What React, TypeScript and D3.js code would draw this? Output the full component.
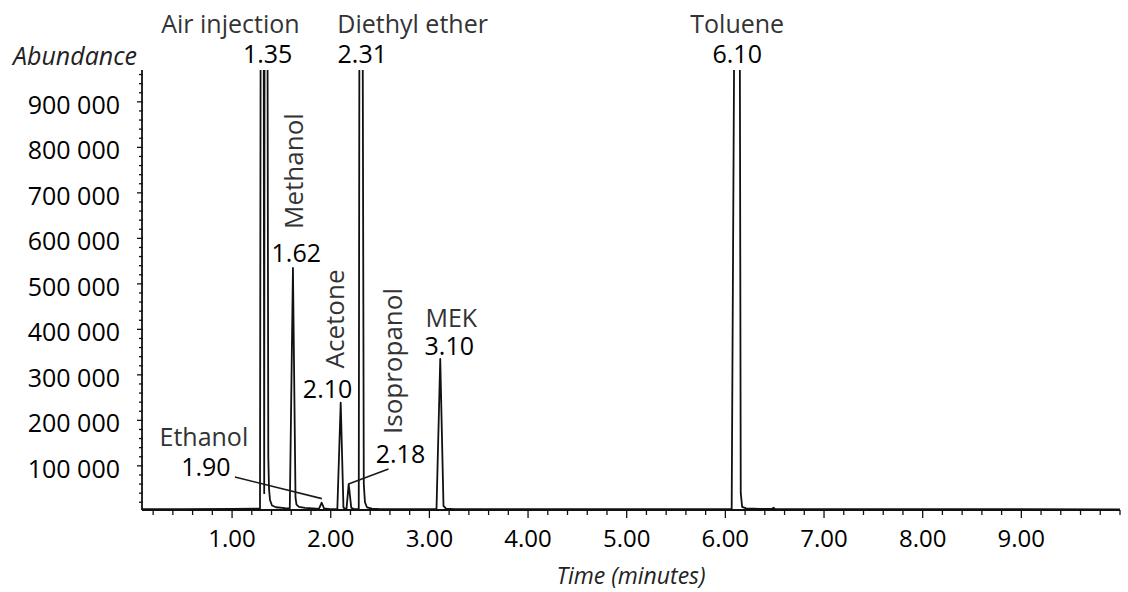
import * as d3 from 'd3';

// chromatogram trace (time in minutes, abundance)
const traceTime = [
  0.09, 0.5, 1.0, 1.283,
  1.291, 1.3195, 1.3256, 1.3297, 1.357, 1.3672, 1.3743, 1.3844, 1.4047, 1.4453, 1.536, 1.582,
  1.585, 1.617, 1.643, 1.653, 1.678, 1.739, 1.851,
  1.881, 1.908, 1.932, 1.993,
  2.067, 2.101, 2.129, 2.15,
  2.16, 2.182, 2.208, 2.236,
  2.284, 2.292, 2.321, 2.335, 2.347, 2.367, 2.418, 2.499,
  3.072, 3.11, 3.143, 3.168, 3.259,
  6.064, 6.096, 6.144, 6.156, 6.17, 6.211, 6.353,
  6.474, 6.487, 6.503, 6.756, 10.0,
];
const traceAbundance = [
  5000, 5000, 5500, 6000,
  1300000, 1300000, 40000, 1300000, 1300000, 120000, 50000, 25000, 13000, 9000, 7000, 6500,
  7000, 535000, 30000, 15000, 10000, 7500, 6000,
  5500, 19000, 6500, 5000,
  5000, 239000, 8000, 5500,
  6000, 60000, 8000, 5000,
  5000, 1300000, 1300000, 60000, 20000, 9000, 6000, 5000,
  5000, 335000, 12000, 6000, 5000,
  5000, 1300000, 1300000, 40000, 10000, 6500, 5500,
  5500, 8000, 5500, 5000, 4500,
];

const peakNames = ['Air injection', 'Methanol', 'Ethanol', 'Acetone', 'Isopropanol', 'Diethyl ether', 'MEK', 'Toluene'];
const peakTimes = ['1.35', '1.62', '1.90', '2.10', '2.18', '2.31', '3.10', '6.10'];

const yTicks = [100000, 200000, 300000, 400000, 500000, 600000, 700000, 800000, 900000];
const xTicks = [1, 2, 3, 4, 5, 6, 7, 8, 9];

const W = 1128;
const H = 592;
const left = 142;
const right = 1120;
const top = 70;
const bottom = 510;

const font = "'Open Sans', 'Noto Sans', sans-serif";

export default function App() {
  const x = d3.scaleLinear().domain([0.087, 10.0]).range([left, right]);
  const y = d3.scaleLinear().domain([3000, 970000]).range([bottom, top]);

  const line = d3.line<number>()
    .x((_, i) => x(traceTime[i]))
    .y((d) => y(d));

  const fmtY = (v: number) => d3.format(',')(v).replace(/,/g, ' ');

  const minorY = d3.range(20000, 970000, 20000);
  const minorX = d3.range(0.2, 10.001, 0.2);

  const rt = (i: number) => x(+peakTimes[i]);

  const nameFill = '#333';
  const numFill = '#000';
  const numWeight = 500;

  return (
    <svg width={W} height={H} style={{ position: 'absolute', left: 0, top: 0, background: '#fff' }}
      fontFamily={font}>
      <defs>
        <clipPath id="plot">
          <rect x={left} y={top} width={right - left + 2} height={bottom - top + 2} />
        </clipPath>
      </defs>

      {/* y axis */}
      <line x1={left} x2={left} y1={top} y2={bottom} stroke="#111" strokeWidth={1.8} />
      {minorY.map((v) => {
        const major = Math.abs(v % 100000) < 1;
        return (
          <line key={'my' + v} x1={left - (major ? 5 : 3)} x2={left + 1} y1={y(v)} y2={y(v)}
            stroke="#111" strokeWidth={1.3} />
        );
      })}
      {yTicks.map((v) => (
        <text key={'yt' + v} x={120} y={y(v) + 12} textAnchor="end" fontSize={25} fill={numFill}
          fontWeight={numWeight}>
          {fmtY(v)}
        </text>
      ))}
      <text x={137} y={65} textAnchor="end" fontSize={25} fontStyle="italic" fill="#222">Abundance</text>

      {/* x axis */}
      <line x1={left} x2={right} y1={bottom} y2={bottom} stroke="#111" strokeWidth={2} />
      {minorX.map((v) => {
        const major = Math.abs(v - Math.round(v)) < 0.001 && v < 9.5;
        return (
          <line key={'mx' + v} x1={x(v)} x2={x(v)} y1={bottom} y2={bottom + (major ? 8 : 5)}
            stroke="#111" strokeWidth={1.3} />
        );
      })}
      {xTicks.map((v) => (
        <text key={'xt' + v} x={x(v)} y={547} textAnchor="middle" fontSize={24} fill={numFill}
          fontWeight={numWeight}>
          {v.toFixed(2)}
        </text>
      ))}
      <text x={631} y={584} textAnchor="middle" fontSize={23} fontStyle="italic" fill="#222">Time (minutes)</text>

      {/* trace */}
      <path d={line(traceAbundance) || ''} fill="none" stroke="#111" strokeWidth={1.8}
        strokeLinejoin="round" clipPath="url(#plot)" />

      {/* Air injection */}
      <text x={rt(0) + 33} y={33} textAnchor="end" fontSize={25} fill={nameFill}>{peakNames[0]}</text>
      <text x={rt(0) + 1} y={63} textAnchor="middle" fontSize={25} fill={numFill}
        fontWeight={numWeight}>{peakTimes[0]}</text>

      {/* Methanol */}
      <text transform={`translate(${rt(1) + 10},171) rotate(-90)`} textAnchor="middle" fontSize={26}
        fill={nameFill}>{peakNames[1]}</text>
      <text x={rt(1) + 3} y={262} textAnchor="middle" fontSize={25} fill={numFill}
        fontWeight={numWeight}>{peakTimes[1]}</text>

      {/* Ethanol */}
      <text x={rt(2) - 117} y={446} textAnchor="middle" fontSize={25} fill={nameFill}>{peakNames[2]}</text>
      <text x={rt(2) - 115} y={476} textAnchor="middle" fontSize={25} fill={numFill}
        fontWeight={numWeight}>{peakTimes[2]}</text>
      <line x1={rt(2) - 86} y1={477} x2={rt(2) + 1} y2={y(28000)} stroke="#1a1a1a" strokeWidth={1.6} />

      {/* Acetone */}
      <text transform={`translate(${rt(3) + 3},319) rotate(-90)`} textAnchor="middle" fontSize={26}
        fill={nameFill}>{peakNames[3]}</text>
      <text x={rt(3) - 13} y={398} textAnchor="middle" fontSize={25} fill={numFill}
        fontWeight={numWeight}>{peakTimes[3]}</text>

      {/* Isopropanol */}
      <text transform={`translate(${rt(4) + 54},361) rotate(-90)`} textAnchor="middle" fontSize={26}
        fill={nameFill}>{peakNames[4]}</text>
      <text x={rt(4) + 52} y={463} textAnchor="middle" fontSize={25} fill={numFill}
        fontWeight={numWeight}>{peakTimes[4]}</text>
      <line x1={rt(4) + 40} y1={469} x2={rt(4)} y2={y(60000)} stroke="#1a1a1a" strokeWidth={1.6} />

      {/* Diethyl ether */}
      <text x={rt(5) - 24} y={33} textAnchor="start" fontSize={25} fill={nameFill}>{peakNames[5]}</text>
      <text x={rt(5) + 1} y={63} textAnchor="middle" fontSize={25} fill={numFill}
        fontWeight={numWeight}>{peakTimes[5]}</text>

      {/* MEK */}
      <text x={rt(6) + 12} y={327} textAnchor="middle" fontSize={25} fill={nameFill}>{peakNames[6]}</text>
      <text x={rt(6) + 10} y={355} textAnchor="middle" fontSize={25} fill={numFill}
        fontWeight={numWeight}>{peakTimes[6]}</text>

      {/* Toluene */}
      <text x={rt(7) + 2} y={33} textAnchor="middle" fontSize={25} fill={nameFill}>{peakNames[7]}</text>
      <text x={rt(7) + 2} y={63} textAnchor="middle" fontSize={25} fill={numFill}
        fontWeight={numWeight}>{peakTimes[7]}</text>
    </svg>
  );
}
